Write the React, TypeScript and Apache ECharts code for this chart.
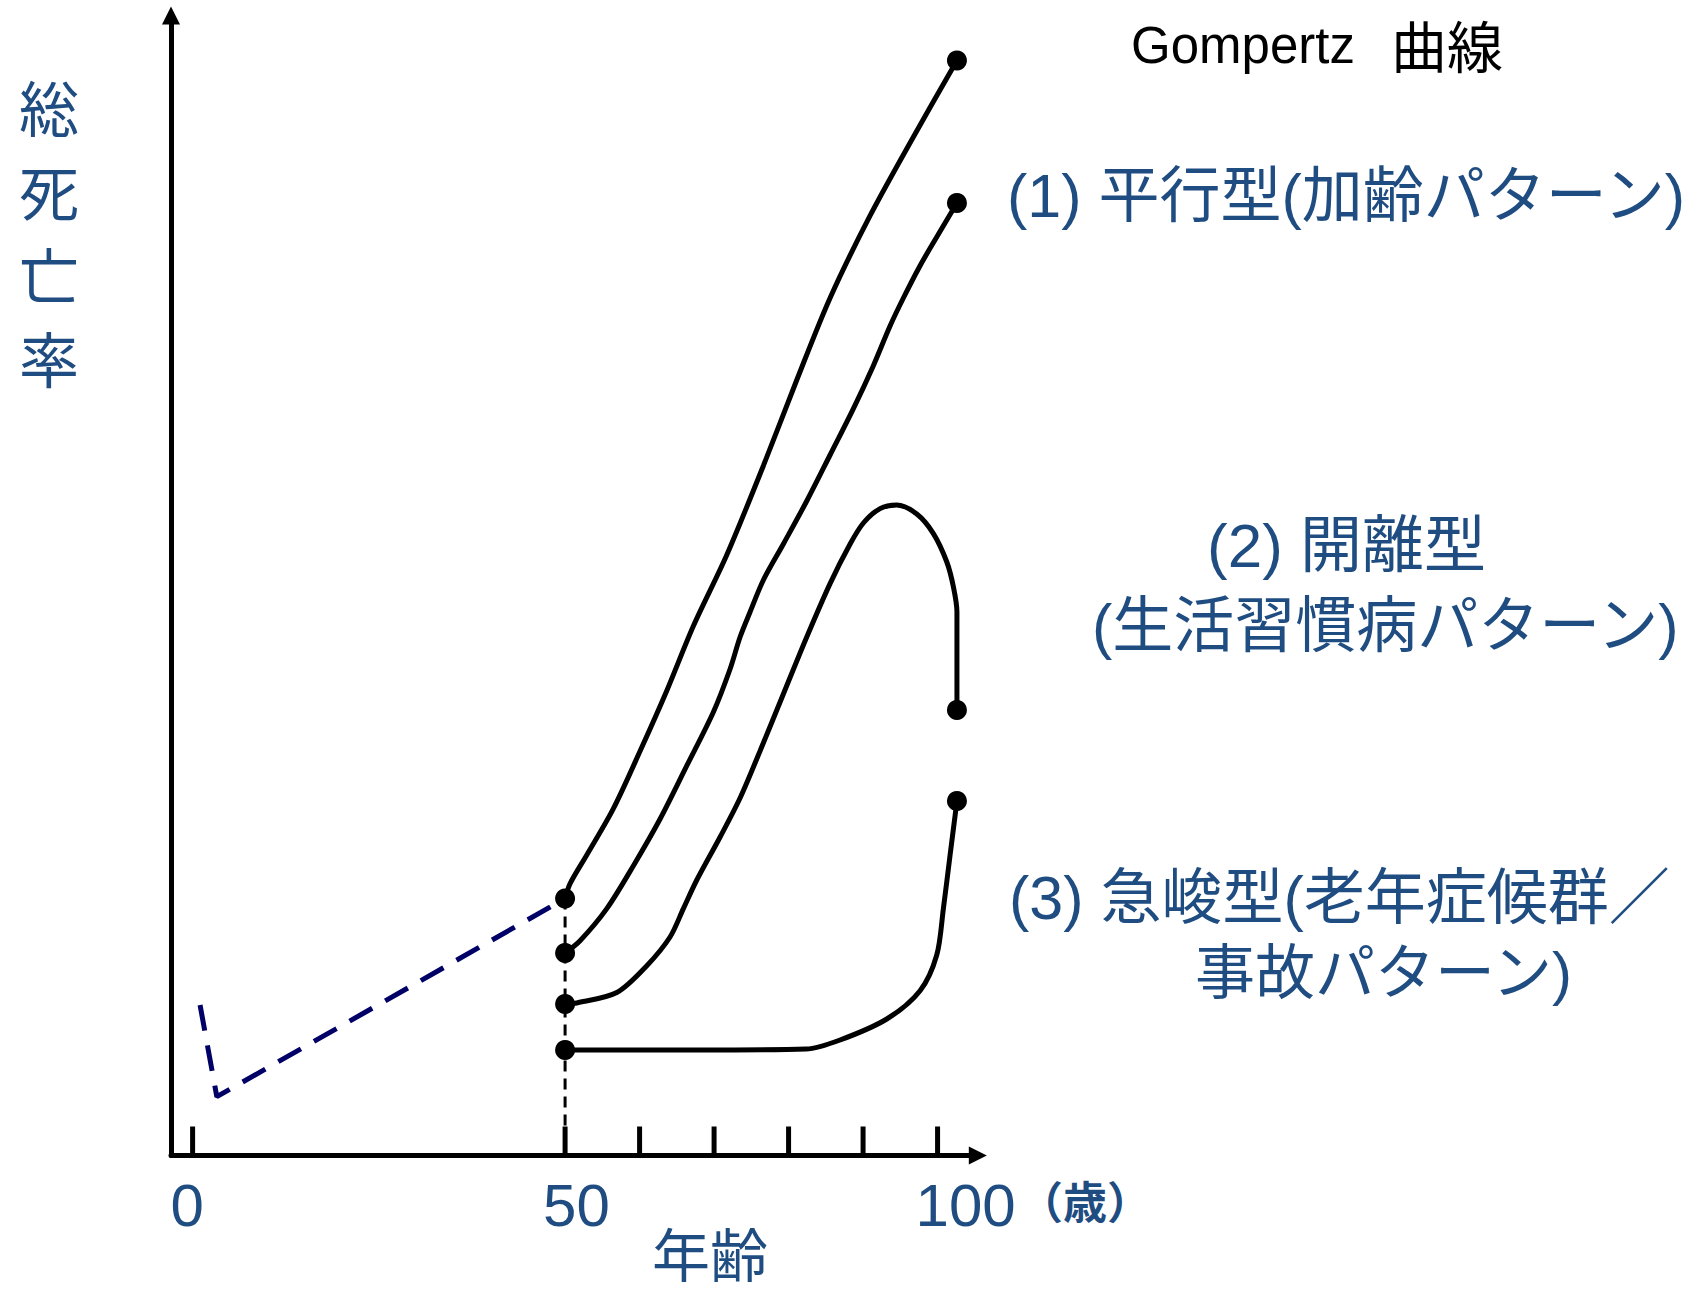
import React, { useEffect, useRef } from "react";
import * as echarts from "echarts";

// ---- data (age in years, mortality in arbitrary units) ----
const xMin = -2.9;
const xMax = 105.4;
const yMin = 0;
const yMax = 114;

const tickAges = [0, 50, 60, 70, 80, 90, 100];
const tickLabels = ["0", "50", "", "", "", "", "100"];

// Gompertz (upper) curve
const gompertzCurve = [
  [50, 25.7], [50.67, 27.19], [52.91, 30.05], [56.48, 34.69], [60.07, 40.45],
  [63.65, 46.48], [67.22, 52.95], [71.7, 60.05], [76.62, 68.98], [81.1, 77.55],
  [85.57, 85.75], [90.94, 93.98], [96.75, 101.85], [102.6, 109.5],
];
// (1) parallel
const parallelCurve = [
  [50, 20.25], [52.01, 21.48], [55.6, 24.69], [59.17, 28.98], [62.75, 33.65],
  [66.34, 38.98], [69.91, 44.35], [72.15, 48.65], [73.49, 51.85], [74.83, 54.35],
  [76.62, 57.55], [79.3, 61.15], [82.44, 65.45], [85.57, 70.05], [88.7, 74.69],
  [91.38, 78.98], [93.62, 82.95], [95.41, 85.75], [97.65, 88.98], [99.89, 91.85],
  [102.6, 95.25],
];
// (2) divergent
const divergentCurve = [
  [50, 15.15], [51.57, 15.25], [56.94, 16.3], [60.97, 18.98], [64.09, 21.85],
  [65.88, 24.69], [67.68, 27.55], [70.81, 31.85], [73.49, 35.75], [76.17, 40.45],
  [79.3, 46.15], [82.44, 51.85], [85.57, 57.19], [88.26, 61.15], [90.04, 63.25],
  [92.28, 64.69], [94.52, 65.05], [97.21, 64.15], [99.44, 62.19], [101.24, 59.35],
  [102.13, 56.85], [102.6, 54.35], [102.6, 44.55],
];
// (3) steep
const steepCurve = [
  [50, 10.55], [68.12, 10.55], [82.35, 10.65], [86.91, 11.55], [93.18, 13.65],
  [97.65, 16.48], [99.89, 20.05], [100.78, 24.69], [101.68, 30.05], [102.6, 35.45],
];
const earlyLifeDashed = [[1.0, 15.05], [3.25, 5.88], [50, 25.7]];
const age50Guide = [[50, 25.7], [50, 0]];
const curveDots = [
  [50, 25.7], [50, 20.25], [50, 15.15], [50, 10.55],
  [102.6, 109.5], [102.6, 95.25], [102.6, 44.55], [102.6, 35.45],
];

const BLUE = "#1F4D82";
const JP = '"Noto Sans CJK JP", sans-serif';
const LATIN = '"Liberation Sans", Arial, sans-serif';
const LATIN_JP = '"Liberation Sans", "Noto Sans CJK JP", sans-serif';

function txt(text: string, x: number, y: number, size: number, family: string, fill: string, weight = "normal") {
  return {
    type: "text",
    x,
    y,
    silent: true,
    style: {
      text,
      fill,
      fontSize: size,
      fontFamily: family,
      fontWeight: weight,
      align: "left",
      verticalAlign: "middle",
      textAlign: "left",
      textVerticalAlign: "middle",
    },
  };
}

export default function App() {
  const ref = useRef<HTMLDivElement>(null);
  useEffect(() => {
    if (!ref.current) return;
    const chart = echarts.init(ref.current, null, { renderer: "svg" });
    const curveStyle = { color: "#000", width: 5 };
    const curve = (data: number[][]) => ({
      type: "line",
      data,
      showSymbol: false,
      symbol: "none",
      smooth: 0.3,
      lineStyle: curveStyle,
      z: 3,
    });
    const axisLine = {
      show: true,
      onZero: false,
      symbol: ["none", "triangle"],
      symbolSize: [18, 18],
      lineStyle: { color: "#000", width: 5 },
    };
    chart.setOption({
      animation: false,
      backgroundColor: "#fff",
      grid: { left: 171, top: 15.5, width: 806.8, height: 1140, containLabel: false },
      xAxis: {
        type: "value",
        min: xMin,
        max: xMax,
        axisLine,
        axisTick: { show: false },
        axisLabel: { show: false },
        splitLine: { show: false },
      },
      yAxis: {
        type: "value",
        min: yMin,
        max: yMax,
        axisLine,
        axisTick: { show: false },
        axisLabel: { show: false },
        splitLine: { show: false },
      },
      series: [
        {
          type: "custom",
          name: "ticks",
          clip: false,
          silent: true,
          data: tickAges.map((a) => [a, 0]),
          renderItem: (params: any, api: any) => {
            const p = api.coord([api.value(0), 0]);
            const label = tickLabels[params.dataIndex];
            const children: any[] = [
              {
                type: "line",
                shape: { x1: p[0], y1: p[1], x2: p[0], y2: p[1] - 29 },
                style: { stroke: "#000", lineWidth: 5 },
              },
            ];
            if (label) {
              children.push({
                type: "text",
                x: p[0] - 22,
                y: p[1] + 50,
                style: {
                  text: label,
                  fill: BLUE,
                  fontSize: 60,
                  fontFamily: LATIN,
                  align: "left",
                  verticalAlign: "middle",
                },
              });
            }
            return { type: "group", children };
          },
        },
        {
          type: "line",
          data: earlyLifeDashed,
          showSymbol: false,
          symbol: "none",
          lineStyle: { color: "#000066", width: 5, type: [26, 15] },
          z: 2,
        },
        {
          type: "line",
          data: age50Guide,
          showSymbol: false,
          symbol: "none",
          lineStyle: { color: "#000", width: 3, type: [11, 7] },
          z: 2,
        },
        curve(gompertzCurve),
        curve(parallelCurve),
        curve(divergentCurve),
        curve(steepCurve),
        {
          type: "scatter",
          data: curveDots,
          symbol: "circle",
          symbolSize: 20,
          itemStyle: { color: "#000", opacity: 1 },
          z: 5,
        },
      ],
      graphic: [
        {
          type: "text",
          x: 49,
          y: 64,
          silent: true,
          style: {
            text: "総\n死\n亡\n率",
            fill: BLUE,
            fontSize: 60,
            fontFamily: JP,
            lineHeight: 83.5,
            align: "center",
            verticalAlign: "top",
            textAlign: "center",
            textVerticalAlign: "top",
          },
        },
        txt("年齢", 652, 1252, 58, JP, BLUE),
        txt("（歳）", 1019, 1200, 44, JP, BLUE, "bold"),
        txt("Gompertz", 1131, 45, 51, LATIN, "#000"),
        txt("曲線", 1391, 43, 56, JP, "#000"),
        txt("(1) 平行型(加齢パターン)", 1007, 196, 61, LATIN_JP, BLUE),
        txt("(2) 開離型", 1207, 545, 62, LATIN_JP, BLUE),
        txt("(生活習慣病パターン)", 1092, 626, 61, LATIN_JP, BLUE),
        txt("(3) 急峻型(老年症候群／", 1009, 898, 61, LATIN_JP, BLUE),
        txt("事故パターン)", 1195, 973, 60, LATIN_JP, BLUE),
      ],
    });
    return () => chart.dispose();
  }, []);
  return (
    <div
      ref={ref}
      style={{ position: "absolute", left: 0, top: 0, width: 1708, height: 1296, background: "#fff" }}
    />
  );
}
